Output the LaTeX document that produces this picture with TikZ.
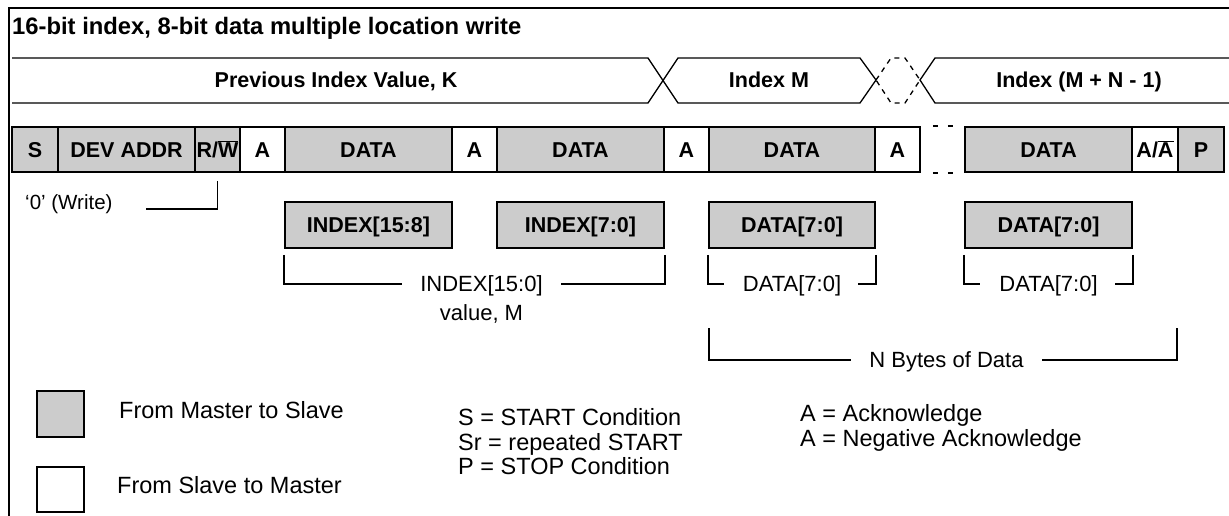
\documentclass[tikz,border=0pt]{standalone}
\usepackage{fontspec}
\setmainfont{Liberation Sans}
\usetikzlibrary{calc}
\definecolor{mgray}{HTML}{CCCCCC}
\begin{document}
\begin{tikzpicture}[x=1pt,y=-1pt,
  cell/.style={draw, line width=1.6pt, minimum height=45pt, inner sep=0pt,
    text height=15.4pt, text depth=0pt, font=\fontsize{21.5}{24}\selectfont\bfseries},
  gcell/.style={cell, fill=mgray},
  wcell/.style={cell, fill=white},
  lbox/.style={draw, fill=mgray, line width=1.8pt, minimum height=46pt, minimum width=167pt,
    inner sep=0pt, text height=15.4pt, text depth=0pt, font=\fontsize{21.5}{24}\selectfont\bfseries},
  buslab/.style={inner sep=0pt, text height=15.4pt, text depth=0pt, font=\fontsize{21.5}{24}\selectfont\bfseries},
  txt/.style={inner sep=0pt, font=\fontsize{22}{25}\selectfont},
  ltxt/.style={inner sep=0pt, font=\fontsize{23.5}{25}\selectfont},
  ctxt/.style={txt, text height=15.8pt, text depth=0pt},
  br/.style={line width=1.5pt},
  bus/.style={line width=1.3pt},
  gapline/.style={line width=1.6pt, dash pattern=on 0pt off 12pt on 5pt off 10pt on 5pt off 60pt},
  frame/.style={line width=2pt}]
\useasboundingbox (0,0) rectangle (1229,516);

% frame
\draw[frame] (9,516) -- (9,8) -- (1229,8);
\node[inner sep=0pt, anchor=base west, font=\fontsize{23.8}{26}\selectfont\bfseries] (hdr) at (12,35)
  {16-bit index, 8-bit data multiple location write};

% bus (index timeline)
\draw[bus] (12,58) -- (648,58) -- (678,103) -- (860,103) -- (876,80) -- (860,58) -- (678,58) -- (648,103) -- (12,103);
\draw[bus, dash pattern=on 5pt off 5pt] (876,80) -- (891,58) -- (905,58) -- (920,80) -- (905,103) -- (891,103) -- cycle;
\draw[bus] (1229,58) -- (935,58) -- (920,80) -- (935,103) -- (1229,103);
\node[buslab] (prev) at (336,80) {Previous Index Value, K};
\node[buslab] (idxm) at (769,80) {Index M};
\node[buslab] (idxn) at (1079,80) {Index (M + N - 1)};

% protocol row
\node[gcell, minimum width=46pt]  (s)   at (35,149.5)   {S};
\node[gcell, minimum width=137pt] (dev) at (126.5,149.5) {DEV ADDR};
\node[gcell, minimum width=45pt]  (rw)  at (217.5,149.5) {R/$\overline{\mbox{W}}$};
\node[wcell, minimum width=45pt]  (a1)  at (262.5,149.5) {A};
\node[gcell, minimum width=167pt] (d1)  at (368.5,149.5) {DATA};
\node[wcell, minimum width=45pt]  (a2)  at (474.5,149.5) {A};
\node[gcell, minimum width=167pt] (d2)  at (580.5,149.5) {DATA};
\node[wcell, minimum width=45pt]  (a3)  at (686.5,149.5) {A};
\node[gcell, minimum width=166pt] (d3)  at (792,149.5)   {DATA};
\node[wcell, minimum width=45pt]  (a4)  at (897.5,149.5) {A};
\node[gcell, minimum width=167pt] (d4)  at (1048.5,149.5) {DATA};
\node[wcell, minimum width=46pt]  (a5)  at (1155,149.5)  {A/$\overline{\mbox{A}}$};
\node[gcell, minimum width=46pt]  (p)   at (1201,149.5)  {P};
\draw[gapline] (a4.north east) -- (d4.north west);
\draw[gapline] (a4.south east) -- (d4.south west);

% write note
\node[inner sep=0pt, anchor=base west, font=\fontsize{20.5}{24}\selectfont] (wlab) at (25,209) {‘0’ (Write)};
\draw[br] ([yshift=-8pt]rw.south) |- ([xshift=33pt]wlab.base east);

% lower boxes
\node[lbox] (ix1) at (368.5,225) {INDEX[15:8]};
\node[lbox] (ix2) at (580.5,225) {INDEX[7:0]};
\node[lbox, minimum width=166pt] (db1) at (792,225) {DATA[7:0]};
\node[lbox] (db2) at (1048.5,225) {DATA[7:0]};

% index bracket
\node[ctxt] (ilab) at (481.5,284) {INDEX[15:0]};
\node[ctxt] (vlab) at (481.5,313) {value, M};
\draw[br] ([yshift=-6pt]ix1.south west) |- ([xshift=-18pt]ilab.west);
\draw[br] ([yshift=-6pt]ix2.south east) |- ([xshift=18pt]ilab.east);

% data brackets
\node[ctxt] (dl1) at (792,284) {DATA[7:0]};
\draw[br] ([yshift=-6pt]db1.south west) |- ([xshift=-19pt]dl1.west);
\draw[br] ([yshift=-6pt]db1.south east) |- ([xshift=17pt]dl1.east);
\node[ctxt] (dl2) at (1048.5,284) {DATA[7:0]};
\draw[br] ([yshift=-6pt]db2.south west) |- ([xshift=-19pt]dl2.west);
\draw[br] ([yshift=-6pt]db2.south east) |- ([xshift=17pt]dl2.east);

% N bytes bracket
\coordinate (nbl) at (709,328);
\coordinate (nbr) at (1177,328);
\node[ctxt] (nlab) at (946.5,360) {N Bytes of Data};
\draw[br] (nbl) |- ([xshift=-18pt]nlab.west);
\draw[br] (nbr) |- ([xshift=18pt]nlab.east);

% legend
\node[draw, fill=mgray, line width=1.6pt, minimum width=47pt, minimum height=46pt, inner sep=0pt] (lg1) at (60.5,414) {};
\node[draw, fill=white, line width=1.6pt, minimum width=47pt, minimum height=45pt, inner sep=0pt] (lg2) at (60.5,489.5) {};
\node[ltxt, anchor=base west] (lt1) at (119,418) {From Master to Slave};
\node[ltxt, anchor=base west] (lt2) at (117,493) {From Slave to Master};

\node[ltxt, anchor=base west] (c1) at (458,425) {S = START Condition};
\node[ltxt, anchor=base west] (c2) at (458,450) {Sr = repeated START};
\node[ltxt, anchor=base west] (c3) at (458,474) {P = STOP Condition};
\node[ltxt, anchor=base west] (k1) at (800,421) {A = Acknowledge};
\node[ltxt, anchor=base west] (k2) at (800,446) {A = Negative Acknowledge};
\end{tikzpicture}
\end{document}
